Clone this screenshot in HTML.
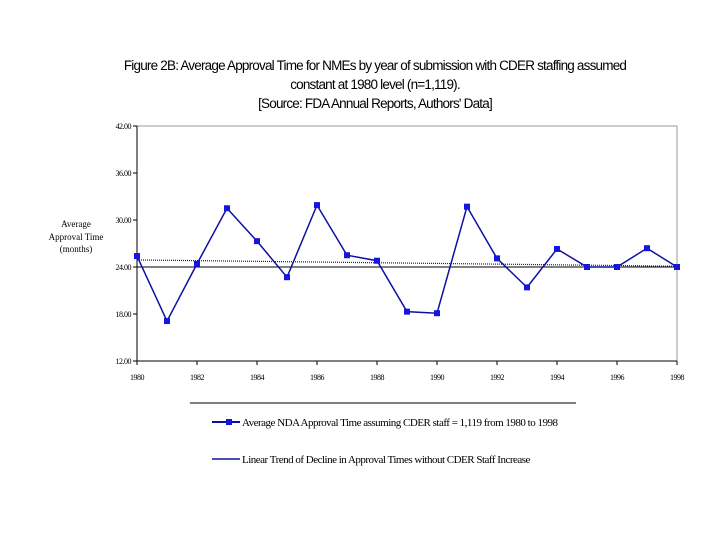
<!DOCTYPE html>
<html><head><meta charset="utf-8"><style>
body{margin:0;background:#fff;}
svg text{font-family:"Liberation Sans",sans-serif;}
.t{font-family:"Liberation Serif",serif;}
</style></head><body>
<svg id="chart" width="720" height="540" xmlns="http://www.w3.org/2000/svg">
<g font-size="13.5" text-anchor="middle" letter-spacing="-0.8">
<text x="375" y="70">Figure 2B: Average Approval Time for NMEs by year of submission with CDER staffing assumed</text>
<text x="375" y="89">constant at 1980 level (n=1,119).</text>
<text x="375" y="108">[Source: FDA Annual Reports, Authors' Data]</text>
</g>
<g class="t" font-size="9" text-anchor="middle">
<text class="t" x="76" y="227">Average</text>
<text class="t" x="76" y="240">Approval Time</text>
<text class="t" x="76" y="252">(months)</text>
</g>
<rect x="137" y="126" width="540" height="235" fill="none" stroke="#999" stroke-width="1"/>
<g id="axes"></g>
<g id="marks"></g>
<line x1="190" y1="403" x2="576" y2="403" stroke="#000"/>
<g>
<line x1="212" y1="422" x2="240" y2="422" stroke="#1010a0" stroke-width="2"/>
<rect x="226" y="419" width="6" height="6" fill="#1515e0"/>
<text class="t" x="242" y="426" font-size="11" letter-spacing="-0.5">Average NDA Approval Time assuming CDER staff = 1,119 from 1980 to 1998</text>
</g>
<g>
<line x1="212" y1="459" x2="240" y2="459" stroke="#1010a0" stroke-width="1.5"/>
<text class="t" x="242" y="463" font-size="11" letter-spacing="-0.5">Linear Trend of Decline in Approval Times without CDER Staff Increase</text>
</g>
</svg>
<script>
const years=[1980,1981,1982,1983,1984,1985,1986,1987,1988,1989,1990,1991,1992,1993,1994,1995,1996,1997,1998];
const values=[25.4,17.1,24.4,31.5,27.3,22.7,31.9,25.5,24.8,18.3,18.1,31.7,25.1,21.4,26.3,24.0,24.0,26.4,24.0];
const trendEnds=[24.9,24.1];
const yTicks=[12,18,24,30,36,42];
const xTicks=[1980,1982,1984,1986,1988,1990,1992,1994,1996,1998];
const NS="http://www.w3.org/2000/svg";
const x=v=>137+(v-1980)*30;
const y=v=>361-(v-12)*235/30;
function mk(t,a,p){const e=document.createElementNS(NS,t);for(const k in a)e.setAttribute(k,a[k]);p.appendChild(e);return e;}
const ax=document.getElementById('axes'),mg=document.getElementById('marks');
let e=mk('line',{x1:137,y1:126,x2:137,y2:361,stroke:'#000'},ax);


e=mk('line',{x1:137,y1:361,x2:677,y2:361,stroke:'#000'},ax);


e=mk('line',{x1:137,y1:y(24),x2:677,y2:y(24),stroke:'#000'},ax);


yTicks.forEach(v=>{
 mk('line',{x1:133,y1:y(v),x2:137,y2:y(v),stroke:'#000'},ax);
 const t=mk('text',{x:131,y:y(v)+3,'font-size':8,'text-anchor':'end',class:'t','letter-spacing':'-0.5'},ax);
 t.textContent=v.toFixed(2);
 
 
});
xTicks.forEach(v=>{
 mk('line',{x1:x(v),y1:361,x2:x(v),y2:365,stroke:'#000'},ax);
 const t=mk('text',{x:x(v),y:380,'font-size':8,'text-anchor':'middle',class:'t','letter-spacing':'-0.5'},ax);
 t.textContent=v;
 
 
});
e=mk('line',{x1:x(years[0]),y1:y(trendEnds[0]),x2:x(years[years.length-1]),y2:y(trendEnds[1]),stroke:'#1010a0','stroke-width':1.2,'stroke-dasharray':'1 1'},mg);


e=mk('polyline',{points:years.map((yr,i)=>x(yr)+','+y(values[i])).join(' '),fill:'none',stroke:'#1010a0','stroke-width':1.5},mg);


years.forEach((yr,i)=>{
 const r=mk('rect',{x:x(yr)-3,y:y(values[i])-3,width:6,height:6,fill:'#1515e0'},mg);
 
 
});
</script>
</body></html>
